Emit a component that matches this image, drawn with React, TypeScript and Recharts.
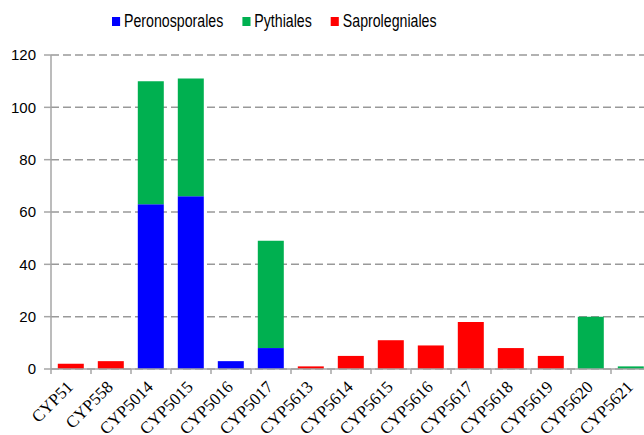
import React from "react";
import { BarChart, Bar, XAxis, YAxis, CartesianGrid, Legend } from "recharts";

const categories = [
  "CYP51", "CYP558", "CYP5014", "CYP5015", "CYP5016", "CYP5017", "CYP5613",
  "CYP5614", "CYP5615", "CYP5616", "CYP5617", "CYP5618", "CYP5619", "CYP5620", "CYP5621",
];
const peronosporales = [0, 0, 63, 66, 3, 8, 0, 0, 0, 0, 0, 0, 0, 0, 0];
const pythiales = [0, 0, 47, 45, 0, 41, 0, 0, 0, 0, 0, 0, 0, 20, 1];
const saprolegniales = [2, 3, 0, 0, 0, 0, 1, 5, 11, 9, 18, 8, 5, 0, 0];
const yTicks = [0, 20, 40, 60, 80, 100, 120];

const seriesDefs = [
  { key: "Peronosporales", values: peronosporales, color: "#0000FF" },
  { key: "Pythiales", values: pythiales, color: "#00B050" },
  { key: "Saprolegniales", values: saprolegniales, color: "#FF0000" },
];

const data = categories.map((c, i) => {
  const row: Record<string, string | number> = { name: c };
  seriesDefs.forEach((s) => {
    row[s.key] = s.values[i];
  });
  return row;
});

const AXIS = "#a6a6a6";

const XTick = (props: any) => {
  const { x, y, payload, width, visibleTicksCount } = props;
  const half = width / visibleTicksCount / 2;
  return (
    <g>
      <line x1={x - half} x2={x - half} y1={y} y2={y + 5} stroke={AXIS} strokeWidth={1.5} />
      <text
        x={x + 3}
        y={y + 19}
        textAnchor="end"
        transform={`rotate(-45, ${x + 3}, ${y + 19})`}
        fontFamily="'Liberation Serif', 'Times New Roman', serif"
        fontSize={17}
        fill="#000"
      >
        {payload.value}
      </text>
    </g>
  );
};

const LegendContent = () => (
  <div
    style={{
      display: "flex",
      alignItems: "center",
      fontFamily: "'Liberation Sans', Arial, sans-serif",
      fontSize: 17.5,
      color: "#000",
      transform: "scaleX(0.81)",
      transformOrigin: "0 50%",
      whiteSpace: "nowrap",
    }}
  >
    {seriesDefs.map((s, i) => (
      <div key={s.key} style={{ display: "flex", alignItems: "center", marginRight: i < seriesDefs.length - 1 ? 23.5 : 0 }}>
        <span style={{ display: "inline-block", width: 9.9, height: 9, background: s.color, marginRight: 4.9 }} />
        <span>{s.key}</span>
      </div>
    ))}
  </div>
);

export default function App() {
  return (
    <div style={{ position: "absolute", left: 0, top: 0, width: 644, height: 435, overflow: "hidden", background: "#fff" }}>
      <BarChart
        width={660}
        height={435}
        data={data}
        margin={{ top: 55, right: 9, left: 0, bottom: 0 }}
        barCategoryGap="17%"
      >
        <CartesianGrid vertical={false} stroke="#999" strokeDasharray="8 4" strokeWidth={1.5} />
        <XAxis
          dataKey="name"
          height={66}
          interval={0}
          tickSize={0}
          tickMargin={0}
          tickLine={false}
          axisLine={{ stroke: AXIS, strokeWidth: 1.5 }}
          tick={<XTick />}
        />
        <YAxis
          width={51}
          domain={[0, 120]}
          ticks={yTicks}
          interval={0}
          tickSize={7}
          tickMargin={8}
          axisLine={{ stroke: AXIS, strokeWidth: 1.5 }}
          tickLine={{ stroke: AXIS, strokeWidth: 1.5 }}
          tick={{ fill: "#000", fontSize: 15, fontFamily: "'Liberation Sans', Arial, sans-serif" }}
        />
        <Legend
          verticalAlign="middle"
          layout="horizontal"
          content={<LegendContent />}
          wrapperStyle={{ position: "absolute", top: 11, left: 112, width: "auto", height: 20 }}
        />
        {seriesDefs.map((s) => (
          <Bar key={s.key} dataKey={s.key} stackId="a" fill={s.color} isAnimationActive={false} />
        ))}
      </BarChart>
    </div>
  );
}
